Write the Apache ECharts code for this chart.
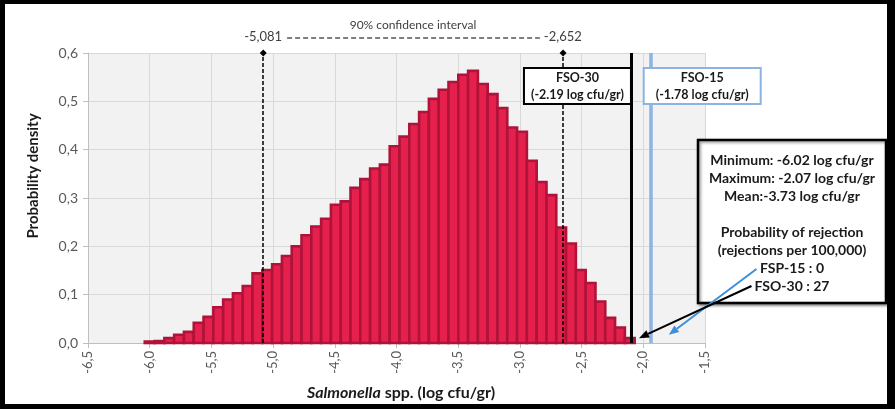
<!DOCTYPE html>
<html>
<head>
<meta charset="utf-8">
<title>Salmonella spp. distribution</title>
<script src="https://cdn.jsdelivr.net/npm/echarts@6/dist/echarts.min.js"></script>
<style>
  html, body { margin: 0; padding: 0; background: #000; }
  #chart { position: absolute; left: 5px; top: 4px; width: 882px; height: 400px; background: #fff; }
</style>
</head>
<body>
<div id="chart"></div>
<script>
// histogram bins (log cfu/gr)
var binStart = -6.04;
var binWidth = 0.0794;
var density = [
  0.003, 0.004, 0.010, 0.017, 0.023, 0.042, 0.054, 0.074, 0.090, 0.103,
  0.118, 0.144, 0.151, 0.163, 0.180, 0.200, 0.223, 0.241, 0.257, 0.286,
  0.293, 0.321, 0.339, 0.361, 0.369, 0.407, 0.427, 0.453, 0.478, 0.505,
  0.524, 0.540, 0.555, 0.563, 0.536, 0.515, 0.486, 0.446, 0.437, 0.377,
  0.333, 0.306, 0.239, 0.206, 0.151, 0.124, 0.086, 0.052, 0.032, 0.010
];

// 90% confidence interval bounds
var ciBounds = [-5.081, -2.652];
// reference lines as drawn in the figure
var fso30X = -2.10;
var fso15X = -1.94;
var fso30Text = ['FSO-30', '(-2.19 log cfu/gr)'];
var fso15Text = ['FSO-15', '(-1.78 log cfu/gr)'];
var infoLines = [
  'Minimum: -6.02 log cfu/gr',
  'Maximum: -2.07 log cfu/gr',
  'Mean:-3.73 log cfu/gr',
  '',
  'Probability of rejection',
  '(rejections per 100,000)',
  'FSP-15 : 0',
  'FSO-30 : 27'
];
// where the two arrows point (data coords)
var fso15Tip = [-1.793, 0.017];
var fso30Tip = [-2.035, 0.010];

var chart = echarts.init(document.getElementById('chart'));

var bins = density.map(function (h, i) {
  return [binStart + i * binWidth, binStart + (i + 1) * binWidth, h];
});

function comma(v, d) {
  return v.toFixed(d).replace('.', ',');
}

function renderBin(params, api) {
  var top = api.coord([api.value(0), api.value(2)]);
  var bot = api.coord([api.value(1), 0]);
  return {
    type: 'rect',
    shape: { x: top[0], y: top[1], width: bot[0] - top[0], height: bot[1] - top[1] },
    style: { fill: '#E5204C', stroke: '#B01339', lineWidth: 2.6 }
  };
}

var font = 'Lato';

var option = {
  animation: false,
  grid: {
    left: 83, right: 182, top: 49, bottom: 61,
    show: true, backgroundColor: '#F2F2F2', borderWidth: 0,
    outerBoundsMode: 'none'
  },
  xAxis: {
    type: 'value', min: -6.5, max: -1.5, interval: 0.5,
    name: '{i|Salmonella} spp. (log cfu/gr)',
    nameLocation: 'middle', nameGap: 42,
    nameTextStyle: {
      fontFamily: font, fontSize: 16, fontWeight: 'bold', color: '#1a1a1a',
      padding: [0, 0, 0, 9],
      rich: {
        i: { fontFamily: font, fontSize: 16, fontWeight: 'bold', fontStyle: 'italic', color: '#1a1a1a' }
      }
    },
    axisLine: { lineStyle: { color: '#BFBFBF', width: 1 } },
    axisTick: { show: true, length: 5, lineStyle: { color: '#BFBFBF' } },
    axisLabel: {
      rotate: 90, margin: 8, fontFamily: font, fontSize: 13, color: '#595959',
      formatter: function (v) { return comma(v, 1); }
    },
    splitLine: { show: true, lineStyle: { color: '#D9D9D9', width: 1 } }
  },
  yAxis: {
    type: 'value', min: 0, max: 0.6, interval: 0.1,
    name: 'Probability density',
    nameLocation: 'middle', nameGap: 47,
    nameTextStyle: {
      fontFamily: font, fontSize: 15, fontWeight: 'bold', color: '#1a1a1a',
      padding: [0, 0, 0, 44]
    },
    axisLine: { show: true, lineStyle: { color: '#BFBFBF', width: 1 } },
    axisTick: { show: true, length: 5, lineStyle: { color: '#BFBFBF' } },
    axisLabel: {
      margin: 10, fontFamily: font, fontSize: 14, color: '#595959',
      formatter: function (v) { return comma(v, 1); }
    },
    splitLine: { show: true, lineStyle: { color: '#D9D9D9', width: 1 } }
  },
  series: [
    {
      type: 'custom',
      renderItem: renderBin,
      encode: { x: [0, 1], y: 2 },
      data: bins,
      z: 2
    },
    {
      // confidence interval bounds
      type: 'line',
      data: [],
      z: 5,
      markLine: {
        silent: true,
        animation: false,
        symbol: ['none', 'diamond'],
        symbolSize: 7,
        label: { show: false },
        lineStyle: { color: '#000', type: [4, 2], width: 1.5 },
        data: [{ xAxis: ciBounds[0] }, { xAxis: ciBounds[1] }]
      }
    },
    {
      // FSO limits
      type: 'line',
      data: [],
      z: 6,
      markLine: {
        silent: true,
        animation: false,
        symbol: ['none', 'none'],
        label: { show: false },
        lineStyle: { type: 'solid', width: 3 },
        data: [
          { xAxis: fso30X, lineStyle: { color: '#000' } },
          { xAxis: fso15X, lineStyle: { color: '#8DB3E2', width: 3.5 } }
        ]
      }
    }
  ]
};

chart.setOption(option);

// annotations placed from the axes
var px = function (x, y) { return chart.convertToPixel({ gridIndex: 0 }, [x, y]); };

function txt(s, x, y, f, align, color) {
  return {
    type: 'text', z: 100,
    style: { text: s, x: x, y: y, font: f, fill: color || '#1a1a1a',
      align: align || 'center', verticalAlign: 'middle' }
  };
}

function arrow(from, to, color) {
  var ang = Math.atan2(to[1] - from[1], to[0] - from[0]);
  var len = 10, half = 4;
  var back = [to[0] - len * Math.cos(ang), to[1] - len * Math.sin(ang)];
  var nx = -Math.sin(ang) * half, ny = Math.cos(ang) * half;
  return [
    { type: 'line', z: 101,
      shape: { x1: from[0], y1: from[1], x2: back[0], y2: back[1] },
      style: { stroke: color, lineWidth: 2 } },
    { type: 'polygon', z: 101,
      shape: { points: [to, [back[0] + nx, back[1] + ny], [back[0] - nx, back[1] - ny]] },
      style: { fill: color } }
  ];
}

var gTop = px(-6.5, 0.6)[1];
var ciL = px(ciBounds[0], 0)[0];
var ciR = px(ciBounds[1], 0)[0];
var ciY = gTop - 15;
var lineFso30 = px(fso30X, 0)[0];
var lineFso15 = px(fso15X, 0)[0];

var els = [];
els.push(txt('90% confidence interval', (ciL + ciR) / 2, ciY - 13, '12px ' + font, 'center', '#404040'));
els.push(txt(comma(ciBounds[0], 3), ciL, ciY - 1, '13px ' + font, 'center', '#404040'));
els.push(txt(comma(ciBounds[1], 3), ciR, ciY - 1, '13px ' + font, 'center', '#404040'));
els.push({
  type: 'line', z: 100,
  shape: { x1: ciL + 24, y1: ciY, x2: ciR - 23, y2: ciY },
  style: { stroke: '#000', lineWidth: 1.2, lineDash: [5, 3] }
});

// FSO-30 box sits left of its line
var b30x = lineFso30 - 107;
els.push({ type: 'rect', z: 100, shape: { x: b30x, y: gTop + 15, width: 107, height: 36 },
  style: { fill: '#fff', stroke: '#000', lineWidth: 2 } });
els.push(txt(fso30Text[0], b30x + 53.5, gTop + 25, 'bold 12.5px ' + font));
els.push(txt(fso30Text[1], b30x + 53.5, gTop + 41.5, 'bold 12.5px ' + font));

// FSO-15 box covers its line
var b15x = lineFso15 - 7;
els.push({ type: 'rect', z: 100, shape: { x: b15x, y: gTop + 15, width: 117, height: 36 },
  style: { fill: '#fff', stroke: '#8DB3E2', lineWidth: 2 } });
els.push(txt(fso15Text[0], b15x + 58.5, gTop + 25, 'bold 12.5px ' + font));
els.push(txt(fso15Text[1], b15x + 58.5, gTop + 41.5, 'bold 12.5px ' + font));

// summary box
els.push({ type: 'rect', z: 99, shape: { x: 693, y: 136, width: 188, height: 163 },
  style: { fill: '#fff', stroke: '#000', lineWidth: 2.5,
    shadowBlur: 3, shadowColor: 'rgba(0,0,0,0.45)', shadowOffsetX: 1.5, shadowOffsetY: 1.5 } });
infoLines.forEach(function (s, i) {
  if (s) els.push(txt(s, 787, 156 + i * 18, 'bold 14px ' + font));
});

els = els.concat(arrow([751.5, 265], px(fso15Tip[0], fso15Tip[1]), '#3D8FDA'));
els = els.concat(arrow([746.5, 282], px(fso30Tip[0], fso30Tip[1]), '#000'));

chart.setOption({ graphic: { elements: els } });
</script>
</body>
</html>
